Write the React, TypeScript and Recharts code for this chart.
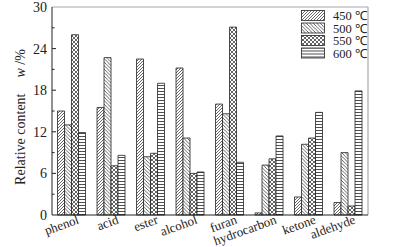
import { BarChart, Bar, XAxis, YAxis, Legend, CartesianGrid } from 'recharts'

const categories = ['phenol', 'acid', 'ester', 'alcohol', 'furan', 'hydrocarbon', 'ketone', 'aldehyde']
const t450 = [15.0, 15.5, 22.5, 21.2, 16.0, 0.3, 2.6, 1.8]
const t500 = [13.0, 22.7, 8.4, 11.1, 14.6, 7.2, 10.2, 9.0]
const t550 = [26.0, 7.1, 8.9, 6.0, 27.1, 8.1, 11.1, 1.3]
const t600 = [11.9, 8.6, 19.0, 6.2, 7.6, 11.4, 14.8, 17.9]
const seriesNames = ['450 ℃', '500 ℃', '550 ℃', '600 ℃']
const yTicks = [0, 3, 6, 9, 12, 15, 18, 21, 24, 27, 30]

const FONT = '"Liberation Serif", "Times New Roman", serif'
const INK = '#222'
const FRAME = '#a8a8a8'

const series = [
  { key: 't450', name: seriesNames[0], fill: 'url(#pat450)' },
  { key: 't500', name: seriesNames[1], fill: 'url(#pat500)' },
  { key: 't550', name: seriesNames[2], fill: 'url(#pat550)' },
  { key: 't600', name: seriesNames[3], fill: 'url(#pat600)' },
]

const data = categories.map((name, i) => ({
  name,
  t450: t450[i],
  t500: t500[i],
  t550: t550[i],
  t600: t600[i],
}))

const Y_TICK_MARGIN = 5

// ticks point inward, labels only on multiples of 6
function YTick({ x, y, payload }: any) {
  const axisX = x + Y_TICK_MARGIN
  const major = payload.value % 6 === 0
  return (
    <g>
      {payload.value !== 0 && payload.value !== 30 && (
        <line x1={axisX} x2={axisX + (major ? 4 : 2.5)} y1={y} y2={y} stroke={INK} strokeWidth={1} />
      )}
      {major && (
        <text x={x} y={y} dy={5} textAnchor="end" fontFamily={FONT} fontSize={14} fill={INK}>
          {payload.value}
        </text>
      )}
    </g>
  )
}

function XTick({ x, y, payload }: any) {
  const tx = x + 8
  const ty = y + 8
  return (
    <text
      x={tx}
      y={ty}
      textAnchor="end"
      transform={`rotate(-20, ${tx}, ${ty})`}
      fontFamily={FONT}
      fontSize={13}
      fill={INK}
    >
      {payload.value}
    </text>
  )
}

function YLabel({ viewBox }: any) {
  const cx = 20
  const cy = viewBox.y + viewBox.height / 2 + 6
  return (
    <text
      x={cx}
      y={cy}
      transform={`rotate(-90, ${cx}, ${cy})`}
      textAnchor="middle"
      dominantBaseline="central"
      fontFamily={FONT}
      fontSize={14}
      fill={INK}
    >
      Relative content
      <tspan dx={16} fontStyle="italic">w</tspan>
      <tspan> /%</tspan>
    </text>
  )
}

function LegendBox() {
  return (
    <svg width={80} height={54} style={{ display: 'block' }}>
      {series.map((s, i) => (
        <g key={s.key} transform={`translate(0, ${i * 12.5})`}>
          <rect x={0.5} y={1.5} width={23} height={10} fill={s.fill} stroke={INK} strokeWidth={0.8} />
          <text x={32} y={11} fontFamily={FONT} fontSize={12.5} fill={INK}>
            {s.name}
          </text>
        </g>
      ))}
    </svg>
  )
}

export default function App() {
  return (
    <div style={{ position: 'absolute', top: 0, left: 0, width: 395, height: 247, background: '#fff' }}>
      <BarChart
        width={395}
        height={247}
        data={data}
        margin={{ top: 7, right: 27, left: 0, bottom: 0 }}
        barCategoryGap="14%"
        barGap={0}
      >
        <defs>
          <pattern id="pat450" patternUnits="userSpaceOnUse" width={3} height={3}>
            <rect width={3} height={3} fill="#fff" />
            <path d="M-1,1 L1,-1 M0,3 L3,0 M2,4 L4,2" stroke={INK} strokeWidth={0.7} />
          </pattern>
          <pattern id="pat500" patternUnits="userSpaceOnUse" width={3.5} height={3.5}>
            <rect width={3.5} height={3.5} fill="#fff" />
            <path d="M-1,2.5 L1,4.5 M0,0 L3.5,3.5 M2.5,-1 L4.5,1" stroke={INK} strokeWidth={0.7} />
          </pattern>
          <pattern id="pat550" patternUnits="userSpaceOnUse" width={4} height={4}>
            <rect width={4} height={4} fill="#fff" />
            <path d="M0,0 L4,4 M0,4 L4,0" stroke={INK} strokeWidth={0.7} />
          </pattern>
          <pattern id="pat600" patternUnits="userSpaceOnUse" width={4} height={3}>
            <rect width={4} height={3} fill="#fff" />
            <path d="M0,1.5 L4,1.5" stroke={INK} strokeWidth={0.8} />
          </pattern>
        </defs>
        {/* frame: gray top and right edges of the plot area */}
        <CartesianGrid
          stroke={FRAME}
          strokeWidth={1.2}
          horizontalCoordinatesGenerator={({ offset }: any) => [offset.top]}
          verticalCoordinatesGenerator={({ offset }: any) => [offset.left + offset.width]}
        />
        <XAxis
          dataKey="name"
          height={32}
          interval={0}
          tickLine={false}
          tickSize={0}
          tickMargin={0}
          axisLine={{ stroke: INK, strokeWidth: 1 }}
          tick={<XTick />}
        />
        <YAxis
          width={52}
          domain={[0, 30]}
          ticks={yTicks}
          interval={0}
          tickLine={false}
          tickSize={0}
          tickMargin={Y_TICK_MARGIN}
          axisLine={{ stroke: INK, strokeWidth: 1 }}
          tick={<YTick />}
          label={{ content: <YLabel /> }}
        />
        <Legend
          layout="vertical"
          align="center"
          verticalAlign="middle"
          content={() => <LegendBox />}
          wrapperStyle={{ top: 9, left: 301, width: 80, height: 54 }}
        />
        {series.map((s) => (
          <Bar
            key={s.key}
            dataKey={s.key}
            name={s.name}
            fill={s.fill}
            stroke={INK}
            strokeWidth={0.8}
            isAnimationActive={false}
          />
        ))}
      </BarChart>
    </div>
  )
}
